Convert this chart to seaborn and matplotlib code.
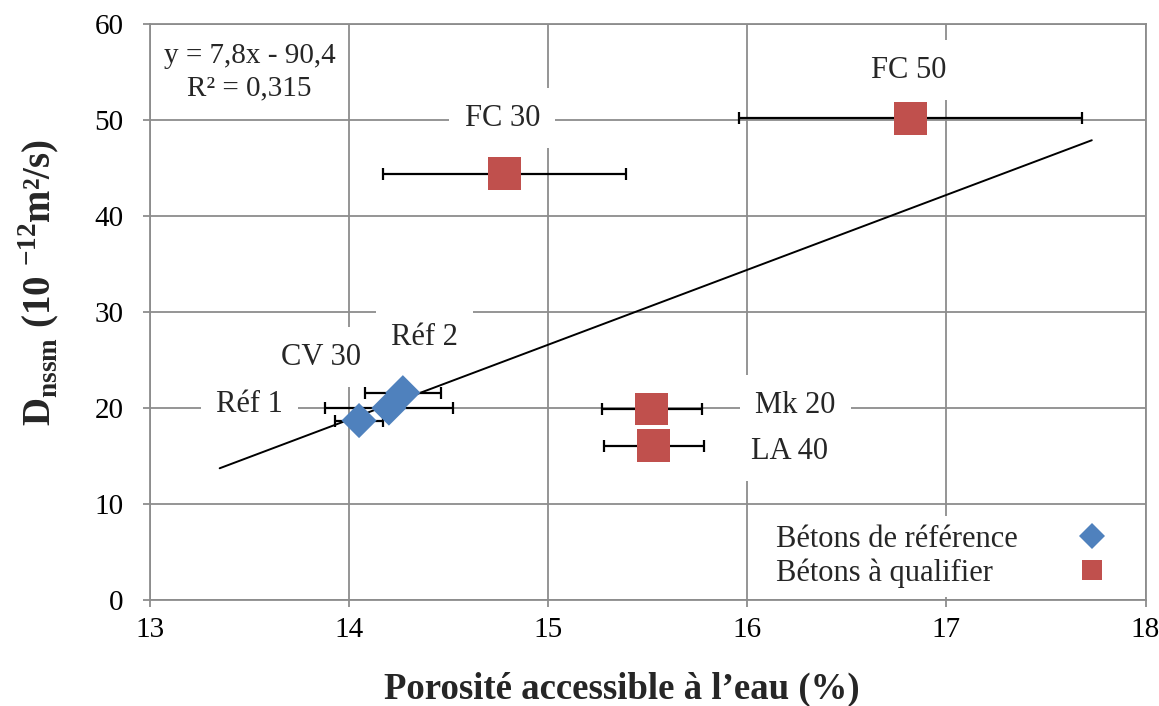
import pandas as pd
import seaborn as sns
import matplotlib.pyplot as plt

# Données
labels = ["Réf 1", "CV 30", "Réf 2", "FC 30", "FC 50", "Mk 20", "LA 40"]
groupe = ["Bétons de référence"] * 3 + ["Bétons à qualifier"] * 4
porosite = [14.05, 14.20, 14.27, 14.78, 16.82, 15.52, 15.53]
porosite_err = [0.12, 0.32, 0.19, 0.61, 0.86, 0.25, 0.25]
dnssm = [18.7, 20.0, 21.6, 44.4, 50.2, 19.9, 16.1]

# Courbe de tendance (Excel) : y = 7,8x - 90,4
pente = 7.8
ordonnee = -90.4
tendance_x = [13.35, 17.73]

# positions des étiquettes
label_pos = [(13.50, 20.4), (13.86, 25.3), (14.38, 27.4), (14.77, 50.2),
             (16.81, 55.2), (16.24, 20.3), (16.21, 15.5)]

ordre = ["Bétons de référence", "Bétons à qualifier"]
df = pd.DataFrame({"label": labels, "groupe": groupe, "x": porosite,
                   "xerr": porosite_err, "y": dnssm})
trend = pd.DataFrame({"x": tendance_x,
                      "y": [pente * v + ordonnee for v in tendance_x]})

sns.set_theme(style="whitegrid")
plt.rcParams['font.family'] = ['Liberation Serif', 'DejaVu Serif']
plt.rcParams['mathtext.fontset'] = 'custom'
plt.rcParams['mathtext.rm'] = 'Liberation Serif'
plt.rcParams['mathtext.bf'] = 'Liberation Serif:bold'

gris = '#8c8c8c'
fig = plt.figure(figsize=(11.59, 7.06), dpi=100)
ax = fig.add_axes([0.1294, 0.150, 0.859, 0.816])

# barres d'erreur
ax.errorbar(df["x"], df["y"], xerr=df["xerr"], fmt='none', ecolor='black',
            elinewidth=1.6, capsize=4, capthick=1.6, zorder=3)

# droite de tendance
sns.lineplot(data=trend, x="x", y="y", color='black', linewidth=1.4, ax=ax,
             zorder=4, legend=False)

# points
sns.scatterplot(data=df, x="x", y="y", hue="groupe", style="groupe",
                size="groupe", hue_order=ordre, style_order=ordre,
                size_order=ordre,
                sizes={"Bétons de référence": 320, "Bétons à qualifier": 560},
                palette=['#4F81BD', '#C0504D'], markers=['D', 's'],
                edgecolor='none', ax=ax, zorder=5)

# étiquettes
for lab, (lx, ly) in zip(labels, label_pos):
    ax.text(lx, ly, lab, fontsize=22, ha='center', va='center', zorder=2,
            bbox=dict(facecolor='white', edgecolor='none', pad=11))

ax.text(13.5, 55.0, "y = 7,8x - 90,4\nR² = 0,315", fontsize=21, ha='center',
        va='center', linespacing=1.3, zorder=2,
        bbox=dict(facecolor='white', edgecolor='none', pad=3))

ax.set_xlim(13, 18)
ax.set_ylim(0, 60)
ax.set_xticks(range(13, 19))
ax.set_yticks(range(0, 61, 10))
ax.grid(True, color=gris, linewidth=1.3)
for sp in ax.spines.values():
    sp.set_color(gris)
    sp.set_linewidth(1.3)
ax.tick_params(axis='both', labelsize=21, colors=gris, labelcolor='black',
               length=5, width=1.3, direction='out')
ax.tick_params(axis='y', pad=14)
ax.tick_params(axis='x', pad=7)
ax.tick_params(left=True, bottom=True)

ax.set_xlabel("Porosité accessible à l’eau (%)", fontsize=26.5,
              fontweight='bold')
ax.xaxis.set_label_coords(0.474, -0.125)
ax.set_ylabel(r"D$_{\mathbf{nssm}}$ (10 $^{\mathbf{-12}}$m²/s)", fontsize=28,
              fontweight='bold')
ax.yaxis.set_label_coords(-0.088, 0.552)

# légende : texte à gauche, marqueur à droite
handles, leg_labels = ax.get_legend_handles_labels()
leg = ax.legend(handles, leg_labels, loc='lower right',
                bbox_to_anchor=(0.982, 0.0), markerfirst=False,
                fontsize=22, frameon=True, framealpha=1, edgecolor='white',
                borderaxespad=0.1, handletextpad=1.7, handlelength=1.5,
                labelspacing=0.15, borderpad=0.3)
leg.get_frame().set_linewidth(0)
leg.set_zorder(6)
for h, ms in zip(leg.legend_handles, [13, 14.5]):
    h.set_markersize(ms)

# aligner le texte à gauche
fig.canvas.draw()
renderer = fig.canvas.get_renderer()
largeurs = [t.get_window_extent(renderer).width for t in leg.get_texts()]
lignes = leg._legend_handle_box.get_children()[0].get_children()
for ligne, w in zip(lignes, largeurs):
    ligne.sep += (max(largeurs) - w) * 72 / fig.dpi

fig.savefig("out.png", dpi=100)
